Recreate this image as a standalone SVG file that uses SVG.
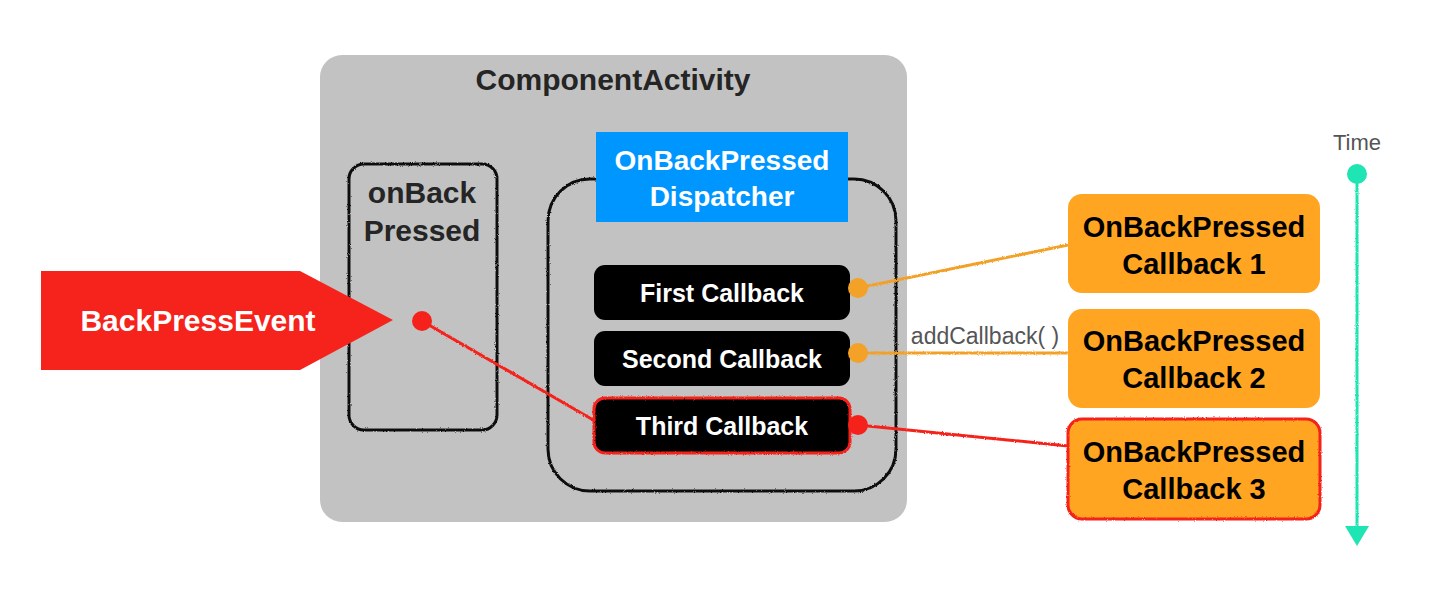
<svg xmlns="http://www.w3.org/2000/svg" width="1434" height="600" viewBox="0 0 1434 600">
  <defs>
    <filter id="rough" filterUnits="userSpaceOnUse" x="0" y="0" width="1434" height="600">
      <feTurbulence type="fractalNoise" baseFrequency="0.9" numOctaves="2" seed="3" result="n"/>
      <feDisplacementMap in="SourceGraphic" in2="n" scale="2.5" xChannelSelector="R" yChannelSelector="G"/>
    </filter>
    <marker id="tarrow" viewBox="0 0 24 20" refX="12" refY="4" markerWidth="24" markerHeight="20" markerUnits="userSpaceOnUse" orient="auto">
      <path d="M0,0 L24,0 L12,20 Z" fill="#1fe4b3" transform="rotate(-90 12 10)"/>
    </marker>
    <style>
      .t { font-family: "Liberation Sans", Arial, sans-serif; text-anchor: middle; }
      .b { font-weight: bold; }
      .sk { fill: none; stroke: #111; stroke-width: 3; filter: url(#rough); }
      .cb { fill: #000; }
      .cbt { fill: #fff; font-size: 25px; }
      .ob { fill: #ffa521; }
      .obt { fill: #000; font-size: 29px; }
      .or { stroke: #f3a127; stroke-width: 3; fill: none; filter: url(#rough); }
      .rd { stroke: #f5221b; stroke-width: 3; fill: none; filter: url(#rough); }
    </style>
  </defs>
  <rect width="1434" height="600" fill="#fff"/>

  <g id="componentActivity">
    <rect x="320" y="55" width="587" height="467" rx="22" fill="#c2c2c2"/>
    <text class="t b" x="613" y="90" font-size="30" fill="#252525">ComponentActivity</text>
  </g>

  <g id="onBackPressed">
    <rect class="sk" x="349" y="164" width="148" height="266" rx="15"/>
    <text class="t b" x="422" y="203" font-size="30" fill="#252525">onBack</text>
    <text class="t b" x="422" y="241" font-size="30" fill="#252525">Pressed</text>
  </g>

  <g id="dispatcher">
    <rect class="sk" x="548" y="179" width="348" height="312" rx="42"/>
    <rect x="596" y="132" width="252" height="90" fill="#0096ff"/>
    <text class="t b" x="722" y="170" font-size="28" fill="#fff">OnBackPressed</text>
    <text class="t b" x="722" y="206" font-size="28" fill="#fff">Dispatcher</text>
  </g>

  <g id="backPressEvent">
    <polygon points="41,271 300,271 393,320 300,370 41,370" fill="#f5231b"/>
    <text class="t b" x="198" y="331" font-size="30" fill="#fff">BackPressEvent</text>
  </g>

  <g id="firstCallback">
    <rect class="cb" x="594" y="265" width="256" height="55" rx="11"/>
    <text class="t b cbt" x="722" y="302">First Callback</text>
  </g>
  <g id="secondCallback">
    <rect class="cb" x="594" y="331" width="256" height="55" rx="11"/>
    <text class="t b cbt" x="722" y="368">Second Callback</text>
  </g>
  <g id="thirdCallback">
    <rect class="cb" x="594" y="398" width="256" height="55" rx="11"/>
    <rect x="594" y="398" width="256" height="55" rx="11" fill="none" stroke="#f5221b" stroke-width="3" filter="url(#rough)"/>
    <text class="t b cbt" x="722" y="435">Third Callback</text>
  </g>

  <g id="callback1">
    <rect class="ob" x="1068" y="194" width="252" height="99" rx="14"/>
    <text class="t b obt" x="1194" y="237">OnBackPressed</text>
    <text class="t b obt" x="1194" y="274">Callback 1</text>
  </g>
  <g id="callback2">
    <rect class="ob" x="1068" y="309" width="252" height="99" rx="14"/>
    <text class="t b obt" x="1194" y="351">OnBackPressed</text>
    <text class="t b obt" x="1194" y="388">Callback 2</text>
  </g>
  <g id="callback3">
    <rect class="ob" x="1068" y="419" width="252" height="100" rx="14"/>
    <rect x="1068" y="419" width="252" height="100" rx="14" fill="none" stroke="#f5221b" stroke-width="3" filter="url(#rough)"/>
    <text class="t b obt" x="1194" y="462">OnBackPressed</text>
    <text class="t b obt" x="1194" y="499">Callback 3</text>
  </g>

  <g id="time">
    <text class="t" x="1357" y="150" font-size="22" fill="#555">Time</text>
    <line x1="1357" y1="175" x2="1357" y2="528" stroke="#1fe4b3" stroke-width="3" filter="url(#rough)"/>
    <path d="M1345,526 L1369,526 L1357,546 Z" fill="#1fe4b3"/>
    <circle cx="1357" cy="174" r="10" fill="#1fe4b3"/>
  </g>

  <g id="connectors">
    <line class="rd" x1="422" y1="321" x2="595" y2="421"/>
    <circle cx="422" cy="321" r="10" fill="#f5221b"/>
    <line class="or" x1="858" y1="288" x2="1068" y2="245"/>
    <circle cx="858" cy="288" r="10" fill="#f3a127"/>
    <line class="or" x1="858" y1="353" x2="1068" y2="353"/>
    <circle cx="858" cy="353" r="10" fill="#f3a127"/>
    <line class="rd" x1="858" y1="425" x2="1068" y2="446"/>
    <circle cx="858" cy="425" r="10" fill="#f5221b"/>
    <text class="t" x="985" y="344" font-size="23" fill="#555">addCallback( )</text>
  </g>
</svg>
